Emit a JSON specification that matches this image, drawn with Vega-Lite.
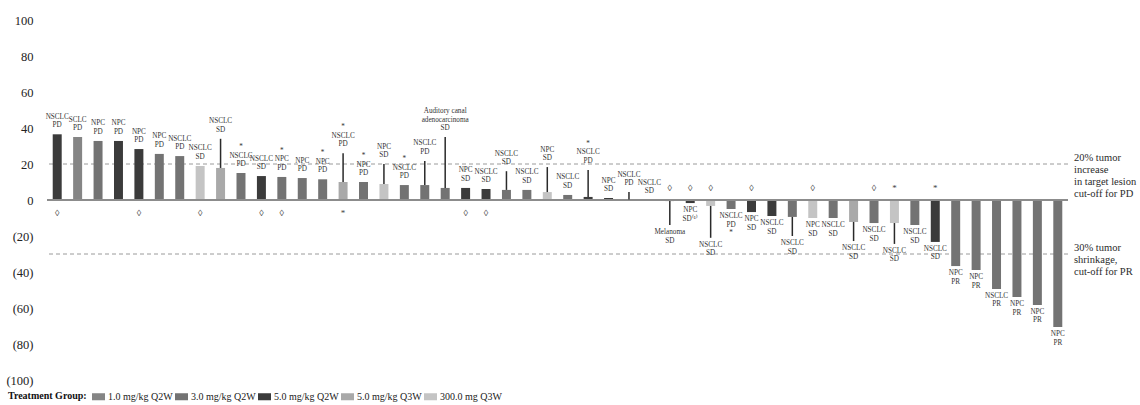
{
  "$schema": "https://vega.github.io/schema/vega-lite/v6.json",
  "autosize": {"type": "none"},
  "width": 1021,
  "height": 360,
  "padding": {"left": 47, "top": 20, "right": 72, "bottom": 25},
  "background": "white",
  "config": {
    "view": {"stroke": null},
    "font": "Liberation Serif",
    "text": {"font": "Liberation Serif"},
    "axisY": {"labelOverlap": false, "labelBound": false, "labelFlush": false}
  },
  "datasets": {
    "patients": [
      {"id": 1, "value": 36.5, "group": "5.0 mg/kg Q2W", "label": "NSCLC|PD", "marker": "◊"},
      {"id": 2, "value": 35.0, "group": "1.0 mg/kg Q2W", "label": "SCLC|PD"},
      {"id": 3, "value": 32.8, "group": "3.0 mg/kg Q2W", "label": "NPC|PD"},
      {"id": 4, "value": 32.8, "group": "5.0 mg/kg Q2W", "label": "NPC|PD"},
      {"id": 5, "value": 28.3, "group": "5.0 mg/kg Q2W", "label": "NPC|PD", "marker": "◊"},
      {"id": 6, "value": 25.6, "group": "3.0 mg/kg Q2W", "label": "NPC|PD"},
      {"id": 7, "value": 24.4, "group": "3.0 mg/kg Q2W", "label": "NSCLC|PD"},
      {"id": 8, "value": 18.9, "group": "300.0 mg Q3W", "label": "NSCLC|SD", "marker": "◊"},
      {"id": 9, "value": 17.8, "group": "5.0 mg/kg Q3W", "label": "NSCLC|SD", "leader": 34},
      {"id": 10, "value": 15.0, "group": "3.0 mg/kg Q2W", "label": "*|NSCLC|PD"},
      {"id": 11, "value": 13.3, "group": "5.0 mg/kg Q2W", "label": "NSCLC|SD", "marker": "◊"},
      {"id": 12, "value": 12.8, "group": "3.0 mg/kg Q2W", "label": "*|NPC|PD", "marker": "◊"},
      {"id": 13, "value": 12.2, "group": "3.0 mg/kg Q2W", "label": "NPC|PD"},
      {"id": 14, "value": 11.5, "group": "3.0 mg/kg Q2W", "label": "*|NPC|PD"},
      {"id": 15, "value": 10.0, "group": "5.0 mg/kg Q3W", "label": "*|NSCLC|PD", "leader": 26, "marker": "*"},
      {"id": 16, "value": 10.0, "group": "3.0 mg/kg Q2W", "label": "*|NPC|PD"},
      {"id": 17, "value": 8.9, "group": "300.0 mg Q3W", "label": "NPC|SD", "leader": 20},
      {"id": 18, "value": 8.3, "group": "3.0 mg/kg Q2W", "label": "*|NSCLC|PD"},
      {"id": 19, "value": 8.3, "group": "3.0 mg/kg Q2W", "label": "NSCLC|PD", "leader": 21.7},
      {"id": 20, "value": 6.7, "group": "3.0 mg/kg Q2W", "label": "Auditory canal|adenocarcinoma|SD", "leader": 35},
      {"id": 21, "value": 6.7, "group": "5.0 mg/kg Q2W", "label": "NPC|SD", "marker": "◊"},
      {"id": 22, "value": 6.1, "group": "5.0 mg/kg Q2W", "label": "NSCLC|SD", "marker": "◊"},
      {"id": 23, "value": 5.6, "group": "3.0 mg/kg Q2W", "label": "NSCLC|SD", "leader": 16},
      {"id": 24, "value": 5.6, "group": "3.0 mg/kg Q2W", "label": "NSCLC|SD"},
      {"id": 25, "value": 4.4, "group": "300.0 mg Q3W", "label": "NPC|SD", "leader": 18.3},
      {"id": 26, "value": 2.8, "group": "3.0 mg/kg Q2W", "label": "NSCLC|SD"},
      {"id": 27, "value": 1.7, "group": "5.0 mg/kg Q2W", "label": "*|NSCLC|PD", "leader": 16.7},
      {"id": 28, "value": 1.1, "group": "5.0 mg/kg Q2W", "label": "NPC|SD"},
      {"id": 29, "value": 0.3, "group": "3.0 mg/kg Q2W", "label": "NSCLC|PD", "leader": 4.4},
      {"id": 30, "value": 0.0, "group": "3.0 mg/kg Q2W", "label": "NSCLC|SD"},
      {"id": 31, "value": -0.6, "group": "3.0 mg/kg Q2W", "label": "Melanoma|SD", "leader": -13.9, "marker": "◊"},
      {"id": 32, "value": -1.7, "group": "5.0 mg/kg Q2W", "label": "NPC|SD⁽¹⁾", "marker": "◊"},
      {"id": 33, "value": -3.3, "group": "300.0 mg Q3W", "label": "NSCLC|SD", "leader": -21, "marker": "◊"},
      {"id": 34, "value": -5.0, "group": "3.0 mg/kg Q2W", "label": "NSCLC|PD|*"},
      {"id": 35, "value": -6.7, "group": "5.0 mg/kg Q2W", "label": "NPC|SD", "marker": "◊"},
      {"id": 36, "value": -8.9, "group": "5.0 mg/kg Q2W", "label": "NSCLC|SD"},
      {"id": 37, "value": -9.4, "group": "3.0 mg/kg Q2W", "label": "NSCLC|SD", "leader": -20},
      {"id": 38, "value": -10.0, "group": "300.0 mg Q3W", "label": "NPC|SD", "marker": "◊"},
      {"id": 39, "value": -10.0, "group": "3.0 mg/kg Q2W", "label": "NSCLC|SD"},
      {"id": 40, "value": -12.2, "group": "5.0 mg/kg Q3W", "label": "NSCLC|SD", "leader": -22.8},
      {"id": 41, "value": -12.8, "group": "3.0 mg/kg Q2W", "label": "NSCLC|SD", "marker": "◊"},
      {"id": 42, "value": -12.8, "group": "300.0 mg Q3W", "label": "NSCLC|SD", "leader": -24.4, "marker": "*"},
      {"id": 43, "value": -13.9, "group": "3.0 mg/kg Q2W", "label": "NSCLC|SD"},
      {"id": 44, "value": -23.3, "group": "5.0 mg/kg Q2W", "label": "NSCLC|SD", "marker": "*"},
      {"id": 45, "value": -36.7, "group": "3.0 mg/kg Q2W", "label": "NPC|PR"},
      {"id": 46, "value": -38.9, "group": "3.0 mg/kg Q2W", "label": "NPC|PR"},
      {"id": 47, "value": -49.4, "group": "3.0 mg/kg Q2W", "label": "NSCLC|PR"},
      {"id": 48, "value": -53.9, "group": "3.0 mg/kg Q2W", "label": "NPC|PR"},
      {"id": 49, "value": -58.3, "group": "3.0 mg/kg Q2W", "label": "NPC|PR"},
      {"id": 50, "value": -70.6, "group": "3.0 mg/kg Q2W", "label": "NPC|PR"}
    ],
    "cutoffs": [
      {"cutoff": 20, "note": "20% tumor|increase|in target lesion|cut-off for PD"},
      {"cutoff": -30, "note": "30% tumor|shrinkage,|cut-off for PR"}
    ]
  },
  "data": {"name": "patients"},
  "encoding": {
    "x": {
      "field": "id",
      "type": "ordinal",
      "sort": "ascending",
      "axis": null,
      "scale": {"paddingInner": 0.56, "paddingOuter": 0.28}
    },
    "y": {
      "type": "quantitative",
      "scale": {"domain": [-100, 100], "nice": false},
      "axis": {
        "title": null,
        "values": [-100, -80, -60, -40, -20, 0, 20, 40, 60, 80, 100],
        "labelExpr": "datum.value < 0 ? '(' + abs(datum.value) + ')' : '' + datum.value",
        "labelOverlap": false,
        "domain": false,
        "ticks": false,
        "grid": false,
        "labelPadding": 14,
        "labelFont": "Liberation Serif",
        "labelFontSize": 12.5,
        "labelColor": "#222222"
      }
    }
  },
  "layer": [
    {
      "data": {"name": "cutoffs"},
      "mark": {"type": "rule", "color": "#9a9a9a", "strokeWidth": 1, "strokeDash": [4, 3]},
      "encoding": {
        "x": null,
        "y": {"field": "cutoff", "type": "quantitative"}
      }
    },
    {
      "data": {"name": "cutoffs"},
      "mark": {"type": "text", "align": "left", "baseline": "top", "dy": -11, "x": {"expr": "width + 6"}, "lineBreak": "|", "lineHeight": 12, "fontSize": 10.5, "color": "#2b2b2b"},
      "encoding": {
        "x": null,
        "y": {"field": "cutoff", "type": "quantitative"},
        "text": {"field": "note"}
      }
    },
    {
      "mark": {"type": "bar"},
      "encoding": {
        "y": {"field": "value", "type": "quantitative"},
        "color": {
          "field": "group",
          "type": "nominal",
          "scale": {
            "domain": ["1.0 mg/kg Q2W", "3.0 mg/kg Q2W", "5.0 mg/kg Q2W", "5.0 mg/kg Q3W", "300.0 mg Q3W"],
            "range": ["#858585", "#737373", "#3b3b3b", "#a9a9a9", "#c4c4c4"]
          },
          "legend": {
            "title": "Treatment Group:",
            "orient": "none",
            "legendX": -39,
            "legendY": 370,
            "direction": "horizontal",
            "titleOrient": "left",
            "titleFont": "Liberation Serif",
            "titleFontSize": 10,
            "titleFontWeight": "bold",
            "titleColor": "#111111",
            "titlePadding": 5,
            "labelFont": "Liberation Serif",
            "labelFontSize": 10,
            "labelColor": "#222222",
            "labelOffset": 3,
            "columnPadding": 2,
            "symbolType": "M-1,-0.54H1V0.54H-1Z",
            "symbolSize": 169,
            "symbolStrokeWidth": 0
          }
        }
      }
    },
    {
      "mark": {"type": "rule", "color": "#8c8c8c", "strokeWidth": 1.5},
      "encoding": {"x": null, "y": {"datum": 0, "type": "quantitative"}}
    },
    {
      "transform": [{"filter": "isValid(datum.leader)"}],
      "mark": {"type": "rule", "color": "#2a2a2a", "strokeWidth": 1.5},
      "encoding": {
        "y": {"field": "value", "type": "quantitative"},
        "y2": {"field": "leader"}
      }
    },
    {
      "transform": [
        {"filter": "datum.value >= 0"},
        {"calculate": "isValid(datum.leader) ? datum.leader : datum.value", "as": "anchor"},
        {"calculate": "reverse(split(datum.label, '|'))", "as": "linesUp"}
      ],
      "mark": {"type": "text", "baseline": "bottom", "dy": -5, "lineHeight": -8.5, "fontSize": 7.2, "color": "#333333"},
      "encoding": {"y": {"field": "anchor", "type": "quantitative"}, "text": {"field": "linesUp"}}
    },
    {
      "transform": [
        {"filter": "datum.value < 0"},
        {"calculate": "isValid(datum.leader) ? datum.leader : datum.value", "as": "anchor"}
      ],
      "mark": {"type": "text", "baseline": "top", "dy": 3, "lineBreak": "|", "lineHeight": 8.5, "fontSize": 7.2, "color": "#333333"},
      "encoding": {"y": {"field": "anchor", "type": "quantitative"}, "text": {"field": "label"}}
    },
    {
      "transform": [{"filter": "datum.value >= 0 && isValid(datum.marker)"}],
      "mark": {"type": "text", "baseline": "middle", "dy": 13, "fontSize": 9, "color": "#444444"},
      "encoding": {"y": {"datum": 0, "type": "quantitative"}, "text": {"field": "marker"}}
    },
    {
      "transform": [{"filter": "datum.value < 0 && isValid(datum.marker)"}],
      "mark": {"type": "text", "baseline": "middle", "dy": -12, "fontSize": 9, "color": "#444444"},
      "encoding": {"y": {"datum": 0, "type": "quantitative"}, "text": {"field": "marker"}}
    }
  ]
}
